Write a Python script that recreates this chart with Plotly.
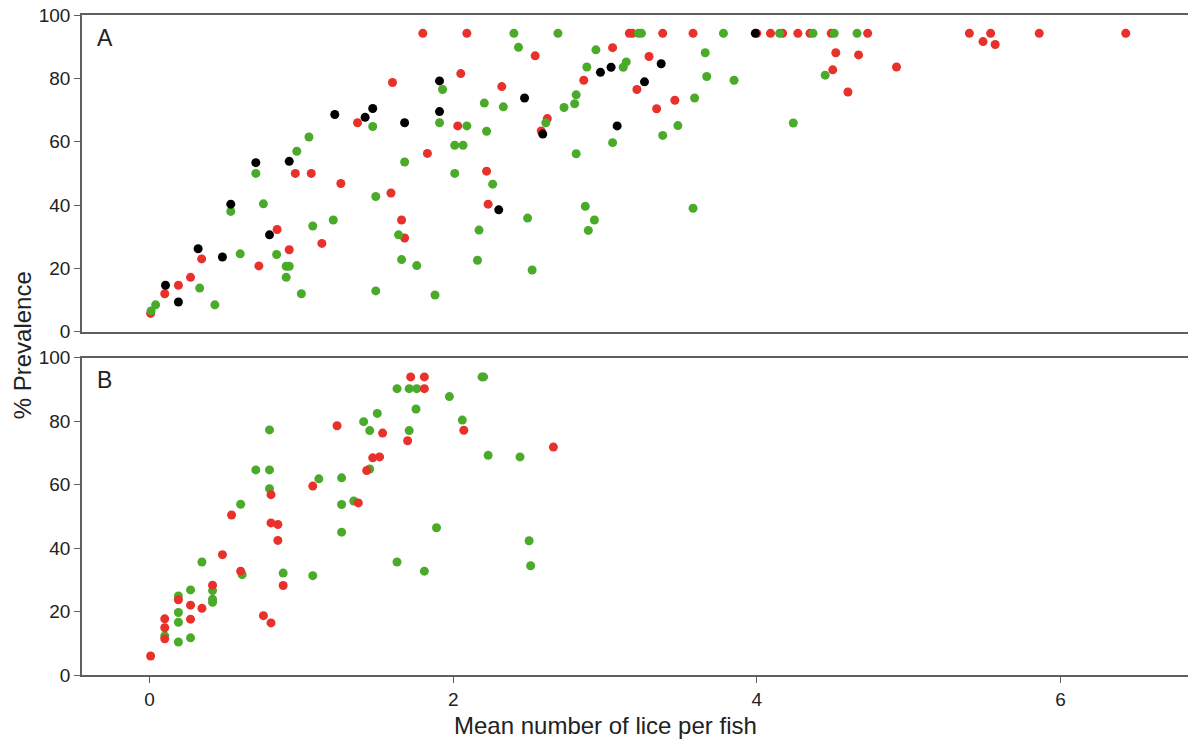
import plotly.graph_objects as go
from plotly.subplots import make_subplots

# ---- Panel A data ----
a_black_x = [0.105, 0.19, 0.32, 0.48, 0.535, 0.70, 0.79, 0.92, 1.22, 1.42, 1.47, 1.68, 1.91, 1.91, 2.30, 2.47, 2.59, 2.97, 3.04, 3.08, 3.26, 3.37, 3.99]
a_black_y = [14.7, 9.4, 26.2, 23.6, 40.3, 53.4, 30.6, 53.8, 68.6, 67.7, 70.5, 66.0, 79.2, 69.5, 38.5, 73.8, 62.4, 81.9, 83.5, 65.0, 78.9, 84.6, 94.2]

a_red_x = [0.007, 0.10, 0.19, 0.27, 0.343, 0.72, 0.84, 0.92, 0.96, 1.065, 1.135, 1.26, 1.37, 1.59, 1.60, 1.66, 1.68, 1.80, 1.83, 2.05, 2.03, 2.09, 2.22, 2.23, 2.32, 2.54, 2.58, 2.62, 2.86, 3.05, 3.16, 3.18, 3.21, 3.29, 3.34, 3.38, 3.46, 3.58, 4.00, 4.09, 4.17, 4.27, 4.35, 4.49, 4.50, 4.52, 4.60, 4.67, 4.73, 4.92, 5.40, 5.49, 5.54, 5.57, 5.86, 6.43]
a_red_y = [5.8, 12.0, 14.7, 17.2, 23.0, 20.8, 32.3, 25.9, 50.0, 50.0, 27.9, 46.8, 66.0, 43.8, 78.7, 35.3, 29.6, 94.2, 56.3, 81.5, 65.0, 94.2, 50.7, 40.3, 77.4, 87.1, 63.4, 67.3, 79.4, 89.7, 94.2, 94.2, 76.5, 86.9, 70.4, 94.2, 73.1, 94.2, 94.2, 94.2, 94.2, 94.2, 94.2, 94.2, 82.7, 88.1, 75.7, 87.4, 94.2, 83.6, 94.2, 91.6, 94.2, 90.7, 94.2, 94.2]

a_green_x = [0.01, 0.04, 0.33, 0.43, 0.535, 0.597, 0.70, 0.75, 0.837, 0.90, 0.92, 0.90, 0.97, 1.0, 1.05, 1.075, 1.21, 1.47, 1.49, 1.49, 1.64, 1.66, 1.68, 1.76, 1.88, 1.91, 1.93, 2.01, 2.01, 2.065, 2.09, 2.16, 2.17, 2.205, 2.22, 2.26, 2.33, 2.40, 2.43, 2.49, 2.52, 2.61, 2.69, 2.73, 2.80, 2.81, 2.81, 2.87, 2.88, 2.89, 2.93, 2.94, 3.05, 3.12, 3.14, 3.22, 3.24, 3.38, 3.48, 3.58, 3.59, 3.66, 3.67, 3.78, 3.85, 4.15, 4.24, 4.37, 4.45, 4.51, 4.66]
a_green_y = [6.6, 8.5, 13.8, 8.5, 38.0, 24.6, 50.0, 40.4, 24.4, 20.7, 20.7, 17.2, 57.0, 12.0, 61.5, 33.4, 35.3, 64.8, 42.7, 12.9, 30.6, 22.8, 53.6, 20.9, 11.6, 66.0, 76.5, 58.9, 50.0, 58.9, 65.0, 22.6, 32.1, 72.2, 63.3, 46.6, 71.0, 94.2, 89.8, 35.9, 19.5, 66.0, 94.2, 70.8, 72.0, 74.8, 56.2, 39.6, 83.6, 32.0, 35.3, 89.0, 59.7, 83.5, 85.2, 94.2, 94.2, 62.0, 65.1, 39.0, 73.8, 88.1, 80.6, 94.2, 79.4, 94.2, 65.9, 94.2, 81.0, 94.2, 94.2]

# ---- Panel B data ----
b_green_x = [0.10, 0.19, 0.19, 0.19, 0.19, 0.27, 0.27, 0.345, 0.415, 0.415, 0.415, 0.60, 0.61, 0.70, 0.79, 0.79, 0.79, 0.88, 1.075, 1.115, 1.265, 1.265, 1.265, 1.345, 1.41, 1.45, 1.45, 1.50, 1.63, 1.63, 1.71, 1.71, 1.755, 1.76, 1.81, 1.89, 1.975, 2.06, 2.19, 2.20, 2.23, 2.44, 2.50, 2.51]
b_green_y = [12.3, 10.4, 16.6, 19.7, 24.9, 11.7, 26.8, 35.6, 22.9, 23.9, 26.6, 53.8, 31.6, 64.6, 64.6, 58.7, 77.2, 32.1, 31.3, 61.8, 62.1, 53.7, 45.0, 54.8, 79.8, 77.0, 64.9, 82.4, 90.2, 35.6, 90.2, 77.0, 83.8, 90.2, 32.7, 46.4, 87.7, 80.3, 93.9, 93.9, 69.2, 68.7, 42.3, 34.4]

b_red_x = [0.007, 0.10, 0.10, 0.10, 0.19, 0.27, 0.27, 0.345, 0.415, 0.48, 0.54, 0.60, 0.75, 0.80, 0.80, 0.80, 0.845, 0.845, 0.88, 1.075, 1.235, 1.375, 1.43, 1.47, 1.515, 1.535, 1.70, 1.72, 1.81, 1.81, 2.07, 2.66]
b_red_y = [6.0, 11.4, 14.9, 17.7, 23.7, 17.6, 22.0, 21.0, 28.3, 37.9, 50.4, 32.7, 18.7, 16.4, 47.9, 56.8, 47.4, 42.4, 28.2, 59.5, 78.5, 54.2, 64.4, 68.4, 68.7, 76.2, 73.8, 93.9, 93.9, 90.2, 77.1, 71.8]

x_ticks = [0, 2, 4, 6]
y_ticks = [0, 20, 40, 60, 80, 100]

RED = "#e8312a"
GREEN = "#4aab2a"
BLACK = "#000000"
AXIS = "#5f5f5f"
TXT = "#222222"
FONT = "Liberation Sans, Arial, sans-serif"

fig = make_subplots(rows=2, cols=1, shared_xaxes=False, vertical_spacing=0.04)

def add(xs, ys, color, row):
    fig.add_trace(go.Scatter(x=xs, y=ys, mode="markers",
                             marker=dict(color=color, size=9, line=dict(width=0)),
                             showlegend=False, hoverinfo="x+y"), row=row, col=1)

add(a_red_x, a_red_y, RED, 1)
add(a_green_x, a_green_y, GREEN, 1)
add(a_black_x, a_black_y, BLACK, 1)
add(b_green_x, b_green_y, GREEN, 2)
add(b_red_x, b_red_y, RED, 2)

xr = [-0.445, 6.84]
common_x = dict(range=xr, showgrid=False, zeroline=False, showline=True,
                linecolor=AXIS, linewidth=1.6, mirror=True,
                tickfont=dict(family=FONT, size=19, color=TXT))
fig.update_xaxes(**common_x, tickvals=x_ticks, showticklabels=False, ticks="", row=1, col=1)
fig.update_xaxes(**common_x, tickvals=x_ticks, ticktext=[str(v) for v in x_ticks],
                 ticks="outside", ticklen=6, tickwidth=1.2, tickcolor=AXIS, row=2, col=1)

common_y = dict(range=[0, 100], showgrid=False, zeroline=False, showline=True,
                linecolor=AXIS, linewidth=1.6, tickvals=y_ticks,
                ticks="outside", ticklen=6, tickwidth=1.2, tickcolor=AXIS,
                ticklabeloverflow="allow",
                tickfont=dict(family=FONT, size=19, color=TXT))
fig.update_yaxes(**common_y, row=1, col=1)
fig.update_yaxes(**common_y, row=2, col=1)

fig.update_layout(
    width=1188, height=740,
    margin=dict(l=82, r=0, t=15, b=65),
    paper_bgcolor="white", plot_bgcolor="white",
    font=dict(family=FONT, color=TXT),
    yaxis=dict(domain=[0.52, 1.0]),
    yaxis2=dict(domain=[0.0, 0.481]),
    xaxis=dict(domain=[0, 1]),
    xaxis2=dict(domain=[0, 1]),
    annotations=[
        dict(text="A", xref="paper", yref="paper", x=0.0115, y=0.965,
             xanchor="left", yanchor="middle", showarrow=False,
             font=dict(family=FONT, size=23, color=TXT)),
        dict(text="B", xref="paper", yref="paper", x=0.0115, y=0.447,
             xanchor="left", yanchor="middle", showarrow=False,
             font=dict(family=FONT, size=23, color=TXT)),
        dict(text="Mean number of lice per fish", xref="paper", yref="paper",
             x=0.473, y=-0.076, xanchor="center", yanchor="middle", showarrow=False,
             font=dict(family=FONT, size=24, color=TXT)),
        dict(text="% Prevalence", xref="paper", yref="paper",
             x=-0.054, y=0.50, xanchor="center", yanchor="middle", showarrow=False,
             textangle=-90, font=dict(family=FONT, size=24, color=TXT)),
    ],
)

# remove the default 8px page margin so the 1188x740 figure fills the window exactly
fig.write_html(
    "out.html",
    config={"displayModeBar": False},
    post_script="document.body.style.margin='0';document.body.style.overflow='hidden';",
)
